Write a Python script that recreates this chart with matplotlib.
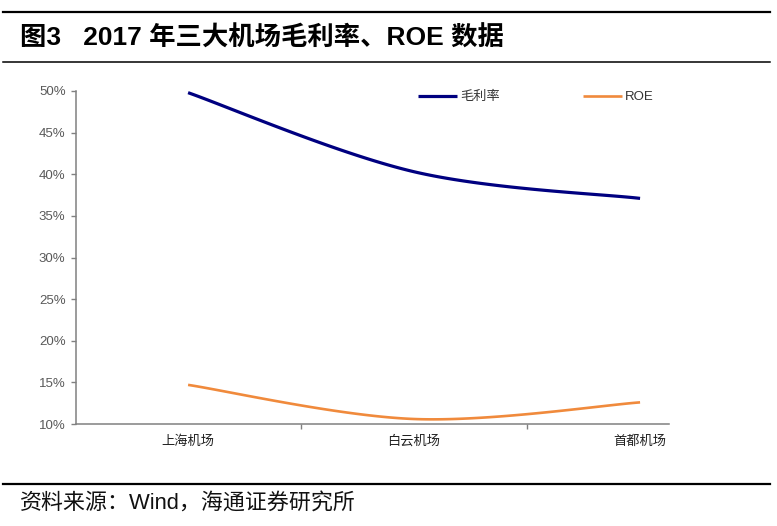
import numpy as np
import matplotlib
matplotlib.use('Agg')
import matplotlib.pyplot as plt
from matplotlib.lines import Line2D

plt.rcParams['font.family'] = ['Noto Sans CJK SC', 'DejaVu Sans']

# data
airports = ['上海机场', '白云机场', '首都机场']
gross_margin = [0.498, 0.403, 0.371]
roe = [0.147, 0.106, 0.126]
yticks = [0.10, 0.15, 0.20, 0.25, 0.30, 0.35, 0.40, 0.45, 0.50]


# Excel-style smoothed line (cubic bezier through the points)
def smooth(xs, ys, n=60):
    xs = np.asarray(xs, float)
    ys = np.asarray(ys, float)
    px = np.concatenate([[xs[0]], xs, [xs[-1]]])
    py = np.concatenate([[ys[0]], ys, [ys[-1]]])
    outx, outy = [], []
    t = np.linspace(0, 1, n)
    for i in range(1, len(px) - 2):
        p0 = np.array([px[i], py[i]])
        p3 = np.array([px[i + 1], py[i + 1]])
        c1 = p0 + (np.array([px[i + 1], py[i + 1]]) - np.array([px[i - 1], py[i - 1]])) / 6
        c2 = p3 - (np.array([px[i + 2], py[i + 2]]) - np.array([px[i], py[i]])) / 6
        b = ((1 - t) ** 3)[:, None] * p0 + (3 * (1 - t) ** 2 * t)[:, None] * c1 \
            + (3 * (1 - t) * t ** 2)[:, None] * c2 + (t ** 3)[:, None] * p3
        outx.extend(b[:, 0])
        outy.extend(b[:, 1])
    return outx, outy


fig = plt.figure(figsize=(7.77, 5.26), dpi=100)
ax = fig.add_axes([0.0978, 0.1939, 0.7632, 0.6331])

x = np.arange(len(airports))
sx, sy = smooth(x, gross_margin)
ax.plot(sx, sy, color='#000080', lw=2.3, solid_capstyle='butt', label='毛利率')
sx, sy = smooth(x, roe)
ax.plot(sx, sy, color='#F08A3C', lw=1.9, solid_capstyle='butt', label='ROE')

ax.set_xlim(-0.496, 2.128)
ax.set_ylim(0.10, 0.50)
ax.set_yticks(yticks)
ax.set_yticklabels(['%d%%' % round(v * 100) for v in yticks],
                   family=['Liberation Sans', 'DejaVu Sans'], fontsize=9.5, color='#595959')
ax.tick_params(axis='y', direction='out', length=3.5, width=1, color='#808080', pad=4)

ax.set_xticks(x)
ax.set_xticklabels(airports, fontsize=9.5, color='#222222')
ax.set_xticks([0.5, 1.5], minor=True)
ax.tick_params(axis='x', which='major', length=0, pad=8)
ax.tick_params(axis='x', which='minor', direction='out', length=3.5, width=1, color='#808080')

for s in ['top', 'right']:
    ax.spines[s].set_visible(False)
for s in ['left', 'bottom']:
    ax.spines[s].set_color('#808080')
    ax.spines[s].set_linewidth(1.1)

leg = ax.legend(loc='upper left', bbox_to_anchor=(0.556, 1.035), ncol=2, frameon=False,
                handlelength=3.0, handletextpad=0.2, columnspacing=6.3,
                prop={'family': ['Liberation Sans', 'Noto Sans CJK SC'], 'size': 9.5})
for t in leg.get_texts():
    t.set_color('#333333')

# header / footer rules and texts
fig.add_artist(Line2D([3 / 777, 770 / 777], [1 - 12 / 526] * 2, color='black', lw=1.6))
fig.add_artist(Line2D([3 / 777, 770 / 777], [1 - 62 / 526] * 2, color='black', lw=1.1))
fig.add_artist(Line2D([3 / 777, 770 / 777], [1 - 484 / 526] * 2, color='black', lw=1.6))

fig.text(20 / 777, 1 - 38 / 526, '图3   2017 年三大机场毛利率、ROE 数据',
         family=['Liberation Sans', 'Noto Sans CJK SC'], fontweight='bold',
         fontsize=19, va='center', ha='left', color='black')
fig.text(20 / 777, 1 - 503 / 526, '资料来源：Wind，海通证券研究所',
         family=['Liberation Sans', 'Noto Sans CJK SC'],
         fontsize=15.8, va='center', ha='left', color='#111111')

fig.savefig('out.png', dpi=100)
